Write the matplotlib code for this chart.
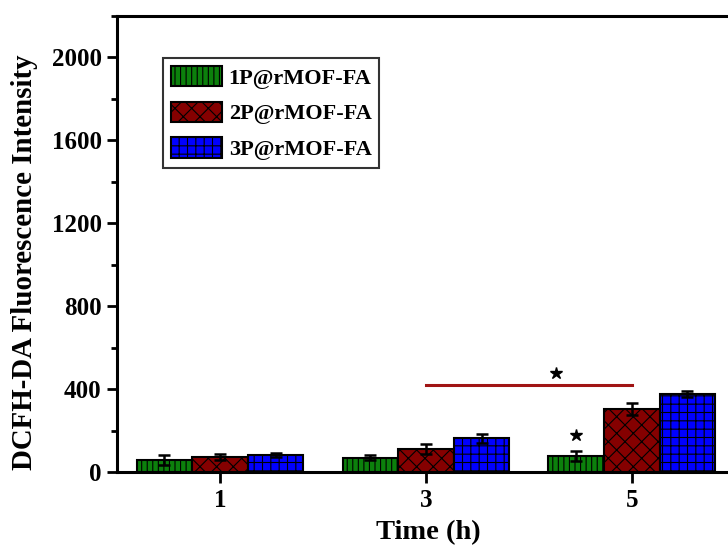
import numpy as np
from matplotlib import pyplot as plt
from matplotlib.ticker import MultipleLocator

# values
times = [1, 3, 5]
labels = ["1P@rMOF-FA", "2P@rMOF-FA", "3P@rMOF-FA"]
p1 = [58, 69, 79]
p2 = [72, 111, 304]
p3 = [82, 162, 377]
p1_err = [23, 12, 24]
p2_err = [16, 26, 27]
p3_err = [8, 23, 16]

sig_line = [3, 5]
sig_y = 418
stars_x = [4.26, 4.46]
stars_y = [478, 178]

colors = ["#0c800c", "#850000", "#0000ff"]
hatches = ["|||", "xx", "++"]

plt.rcParams["font.family"] = ["Liberation Serif", "DejaVu Serif"]
plt.rcParams["font.weight"] = "bold"
plt.rcParams["hatch.linewidth"] = 0.8
plt.rcParams["hatch.color"] = "black"

fig = plt.figure(figsize=(7.28, 5.45), dpi=100)
ax = fig.add_axes([117 / 728, 73 / 545, 623 / 728, 456 / 545])

w = 0.54
x = np.array(times, dtype=float)
series = [p1, p2, p3]
errs = [p1_err, p2_err, p3_err]
for i in range(3):
    pos = x + (i - 1) * w
    ax.bar(pos, series[i], width=w, color=colors[i], edgecolor="black",
           linewidth=1.5, hatch=hatches[i], label=labels[i], zorder=2)
    ax.errorbar(pos, series[i], yerr=errs[i], fmt="none", ecolor="black",
                elinewidth=1.8, capsize=4, capthick=1.8, zorder=3)

ax.plot(sig_line, [sig_y, sig_y], color="#a01414", linewidth=2.2, zorder=3)
ax.plot(stars_x, stars_y, linestyle="none", marker="*", color="black",
        markersize=9, zorder=4)

ax.set_xlim(0, 6.05)
ax.set_ylim(0, 2200)
ax.set_xticks(times)
ax.yaxis.set_major_locator(MultipleLocator(400))
ax.yaxis.set_minor_locator(MultipleLocator(200))
ax.set_yticks([0, 400, 800, 1200, 1600, 2000])

for s in ax.spines.values():
    s.set_linewidth(2.2)
ax.tick_params(axis="both", which="major", direction="out", length=7,
               width=2, labelsize=18, pad=4)
ax.tick_params(axis="y", which="minor", direction="out", length=4, width=2)
ax.tick_params(axis="x", which="major", length=8, pad=4)

ax.set_xlabel("Time (h)", fontsize=20.5, fontweight="bold", labelpad=6)
ax.set_ylabel("DCFH-DA Fluorescence Intensity", fontsize=20.8,
              fontweight="bold")
ax.yaxis.set_label_coords(-0.127, 0.46)

leg = ax.legend(loc="upper left", bbox_to_anchor=(0.074, 0.908),
                borderaxespad=0, fontsize=16, frameon=True, fancybox=False,
                edgecolor="black", handlelength=2.3, handleheight=1.05,
                borderpad=0.35, labelspacing=0.58, handletextpad=0.3)
leg.get_frame().set_linewidth(1.5)

fig.savefig("out.png", dpi=100)
